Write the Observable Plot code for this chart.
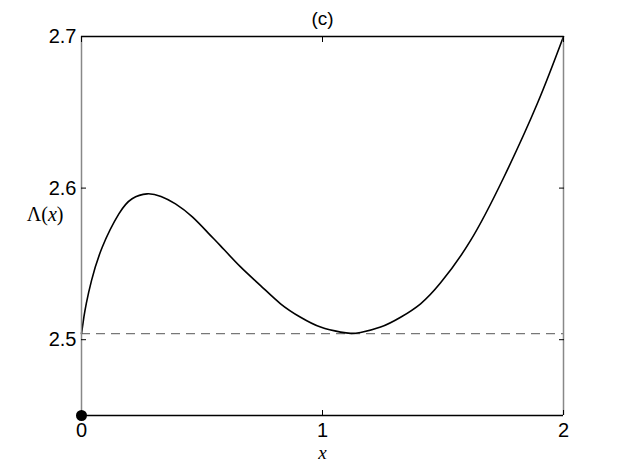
<!DOCTYPE html>
<html><head><meta charset="utf-8">
<script src="https://cdn.jsdelivr.net/npm/d3@7"></script>
<script src="https://cdn.jsdelivr.net/npm/@observablehq/plot@0.6"></script>
<style>body{margin:0;background:#fff}</style>
</head><body><div id="chart"></div>
<script>
const xs     = [0, 0.01, 0.02, 0.0415, 0.086, 0.155, 0.21, 0.272, 0.33, 0.39, 0.46, 0.528, 0.577, 0.66, 0.743, 0.826, 0.909, 0.992, 1.075, 1.116, 1.158, 1.241, 1.324, 1.407, 1.49, 1.614, 1.752, 1.891, 2];
const lambda = [2.504, 2.515, 2.524, 2.539, 2.561, 2.583, 2.593, 2.5962, 2.5945, 2.5896, 2.581, 2.570, 2.5619, 2.548, 2.5357, 2.5237, 2.5148, 2.5083, 2.505, 2.5042, 2.5048, 2.5083, 2.5148, 2.5237, 2.5375, 2.5653, 2.607, 2.6556, 2.7];
const xTicks = [0, 1, 2];
const yTicks = [2.5, 2.6, 2.7];
const xDomain = [0, 2];
const yDomain = [2.45, 2.7];
const baseline = [2.504];
const markerPoint = [{x: 0, y: 2.45}];
const yLabelPos = [2.5825];
const titleText = "(c)";
const xLabel = "x";
const yLabel = "Λ(x)";

const data = xs.map((x, i) => ({x, y: lambda[i]}));

const chart = Plot.plot({
  width: 622, height: 468,
  marginLeft: 81, marginRight: 59, marginTop: 36, marginBottom: 53,
  style: {fontFamily: "'Liberation Sans', Arial, sans-serif", fontSize: "20px", background: "white", color: "black", overflow: "visible"},
  x: {domain: xDomain},
  y: {domain: yDomain},
  marks: [
    Plot.ruleY(baseline, {stroke: "#777", strokeDasharray: "9,6", strokeWidth: 1.2}),
    Plot.line(data, {x: "x", y: "y", curve: "natural", stroke: "black", strokeWidth: 1.6}),
    Plot.ruleX(xDomain, {stroke: "#888", strokeWidth: 1.5}),
    Plot.ruleY(yDomain, {stroke: "black", strokeWidth: 1.3}),
    Plot.axisX({anchor: "bottom", ticks: xTicks, tickSize: -5, tickPadding: 12, label: null, tickFormat: d3.format("d")}),
    Plot.axisX({anchor: "top", ticks: xTicks, tickSize: -5, tickFormat: () => "", label: null}),
    Plot.axisY({anchor: "left", ticks: yTicks, tickSize: -5, tickPadding: 10, tickFormat: d3.format(".1f"), label: null}),
    Plot.axisY({anchor: "right", ticks: yTicks, tickSize: -5, tickFormat: () => "", label: null}),
    Plot.dot(markerPoint, {x: "x", y: "y", r: 5.5, fill: "black"}),
    Plot.text([titleText], {frameAnchor: "top", lineAnchor: "middle", dy: -18, fontSize: 19}),
    Plot.text([xLabel], {frameAnchor: "bottom", lineAnchor: "middle", dy: 37, fontSize: 19, fontFamily: "'Liberation Serif', serif", fontStyle: "italic"}),
    Plot.text([yLabel], {frameAnchor: "left", y: yLabelPos, dx: -18, textAnchor: "end", fontSize: 20, fontFamily: "'Liberation Serif', serif"})
  ]
});
document.getElementById("chart").appendChild(chart);

// italicize the variable inside Λ(x)
d3.select(chart).selectAll("text").each(function() {
  const t = d3.select(this);
  if (t.text() === yLabel) {
    t.text(null);
    t.append("tspan").text("Λ(");
    t.append("tspan").attr("font-style", "italic").text("x");
    t.append("tspan").text(")");
  }
});
</script>
</body></html>
